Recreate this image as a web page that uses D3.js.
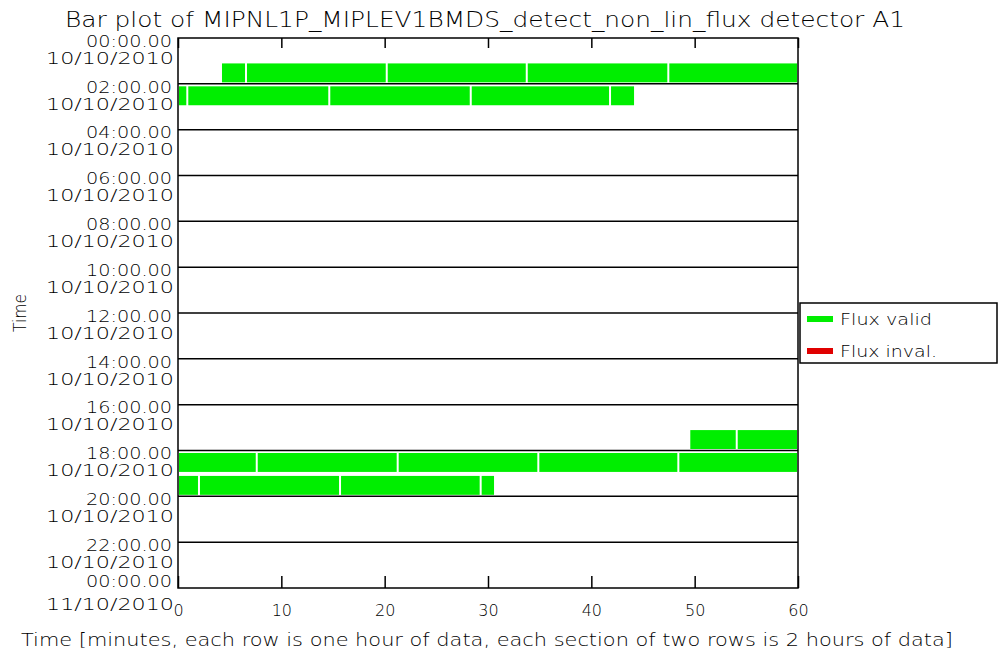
<!DOCTYPE html>
<html lang="en">
<head>
    <meta charset="UTF-8">
    <title>Bar plot detector A1</title>
    <script src="https://cdn.jsdelivr.net/npm/d3@7"></script>
    <style type="text/css">
        body {
            margin: 0;
            background: #fff;
        }
        text {
            font-family: "DejaVu Sans", sans-serif;
            font-weight: 200;
            fill: #000;
        }
    </style>
</head>
<body>
<svg width="1000" height="663"></svg>
<script>
    // row = hour of the day, start/end in minutes within that hour
    var segRow   = [1, 1, 1, 1, 1,  2, 2, 2, 2, 2,  17, 17,  18, 18, 18, 18, 18,  19, 19, 19, 19];
    var segStart = [4.16, 6.58, 20.2, 33.75, 47.45,  0, 0.9, 14.64, 28.33, 41.81,  49.48, 54.07,
                    0, 7.62, 21.26, 34.87, 48.42,  0, 2.03, 15.68, 29.29];
    var segEnd   = [6.58, 20.2, 33.75, 47.45, 60,  0.9, 14.64, 28.33, 41.81, 44.23,  54.07, 60,
                    7.62, 21.26, 34.87, 48.42, 60,  2.03, 15.68, 29.29, 30.68];

    var xTicks = [0, 10, 20, 30, 40, 50, 60];
    var yHours = [0, 2, 4, 6, 8, 10, 12, 14, 16, 18, 20, 22, 24];
    var yTimeLabels = ["00:00.00", "02:00.00", "04:00.00", "06:00.00", "08:00.00", "10:00.00", "12:00.00",
                       "14:00.00", "16:00.00", "18:00.00", "20:00.00", "22:00.00", "00:00.00"];
    var yDateLabels = ["10/10/2010", "10/10/2010", "10/10/2010", "10/10/2010", "10/10/2010", "10/10/2010",
                       "10/10/2010", "10/10/2010", "10/10/2010", "10/10/2010", "10/10/2010", "10/10/2010",
                       "11/10/2010"];
    var legendKeys = ["Flux valid", "Flux inval."];
    var legendColors = ["#00ee00", "#e00000"];

    var svg = d3.select("svg");
    var margin = {top: 38, left: 178, right: 202, bottom: 75};
    var width = 1000 - margin.left - margin.right;   // 620
    var height = 663 - margin.top - margin.bottom;   // 550

    var x = d3.scaleLinear().domain([0, 60]).range([0, width]);
    var y = d3.scaleLinear().domain([0, 24]).range([0, height]);

    svg.append("rect").attr("width", 1000).attr("height", 663).attr("fill", "#fff");

    var g = svg.append("g")
            .attr("transform", "translate(" + margin.left + "," + margin.top + ")");

    // bars
    var segs = segRow.map(function (r, i) {
        return {row: r, start: segStart[i], end: segEnd[i]};
    });
    g.append("g")
            .selectAll("rect")
            .data(segs)
            .enter().append("rect")
            .attr("x", function (d) { return x(d.start) + 1; })
            .attr("width", function (d) { return x(d.end) - x(d.start) - 2; })
            .attr("y", function (d) { return y(d.row) + 2.5; })
            .attr("height", function (d) { return y(d.row + 1) - y(d.row) - 4; })
            .attr("fill", legendColors[0]);

    // section lines every two hours
    g.append("g")
            .selectAll("line")
            .data(yHours.slice(1, -1))
            .enter().append("line")
            .attr("x1", 0)
            .attr("x2", width)
            .attr("y1", function (d) { return y(d); })
            .attr("y2", function (d) { return y(d); })
            .attr("stroke", "#000")
            .attr("stroke-width", 1.5);

    // frame
    g.append("rect")
            .attr("width", width)
            .attr("height", height)
            .attr("fill", "none")
            .attr("stroke", "#000")
            .attr("stroke-width", 1.5);

    // top ticks
    var topAxis = g.append("g")
            .call(d3.axisTop(x).tickValues(xTicks).tickSize(-10).tickFormat(""));
    topAxis.select(".domain").remove();
    topAxis.selectAll("line").attr("stroke", "#000").attr("stroke-width", 1.5);

    // bottom ticks + labels
    var botAxis = g.append("g")
            .attr("transform", "translate(0," + height + ")")
            .call(d3.axisBottom(x).tickValues(xTicks).tickSize(-12).tickPadding(17));
    botAxis.select(".domain").remove();
    botAxis.selectAll("line").attr("stroke", "#000").attr("stroke-width", 1.5);
    botAxis.selectAll("text")
            .attr("font-family", null)
            .attr("font-size", 16)
            .attr("fill", "#000");

    // y labels: time over date at each section line (last one pushed up to fit)
    var last = yHours.length - 1;
    var yl = g.append("g").selectAll("g")
            .data(yHours)
            .enter().append("g")
            .attr("transform", function (d) { return "translate(-6," + y(d) + ")"; });
    yl.append("text")
            .attr("text-anchor", "end")
            .attr("y", function (d, i) { return i === last ? -7 : 3; })
            .attr("dy", "0.36em")
            .attr("font-size", 16)
            .attr("textLength", 86)
            .attr("lengthAdjust", "spacingAndGlyphs")
            .text(function (d, i) { return yTimeLabels[i]; });
    yl.append("text")
            .attr("text-anchor", "end")
            .attr("x", 2)
            .attr("y", function (d, i) { return i === last ? 16 : 20; })
            .attr("dy", "0.36em")
            .attr("font-size", 16)
            .attr("textLength", 128)
            .attr("lengthAdjust", "spacingAndGlyphs")
            .text(function (d, i) { return yDateLabels[i]; });

    // titles
    svg.append("text")
            .attr("x", 485)
            .attr("y", 27)
            .attr("text-anchor", "middle")
            .attr("font-size", 22)
            .attr("textLength", 840)
            .attr("lengthAdjust", "spacingAndGlyphs")
            .text("Bar plot of MIPNL1P_MIPLEV1BMDS_detect_non_lin_flux detector A1");

    svg.append("text")
            .attr("x", 487)
            .attr("y", 646)
            .attr("text-anchor", "middle")
            .attr("font-size", 18)
            .attr("textLength", 932)
            .attr("lengthAdjust", "spacingAndGlyphs")
            .text("Time [minutes, each row is one hour of data, each section of two rows is 2 hours of data]");

    svg.append("text")
            .attr("transform", "translate(26,313) rotate(-90)")
            .attr("text-anchor", "middle")
            .attr("font-size", 17)
            .attr("textLength", 38)
            .attr("lengthAdjust", "spacingAndGlyphs")
            .text("Time");

    // legend
    var legend = svg.append("g").attr("transform", "translate(800,303)");
    legend.append("rect")
            .attr("width", 197)
            .attr("height", 60)
            .attr("fill", "#fff")
            .attr("stroke", "#000")
            .attr("stroke-width", 1.5);
    var item = legend.selectAll("g.item")
            .data(legendKeys)
            .enter().append("g")
            .attr("class", "item")
            .attr("transform", function (d, i) { return "translate(0," + (16 + i * 32) + ")"; });
    item.append("rect")
            .attr("x", 7)
            .attr("y", -3)
            .attr("width", 26)
            .attr("height", 6)
            .attr("fill", function (d, i) { return legendColors[i]; });
    item.append("text")
            .attr("x", 40)
            .attr("dy", "0.36em")
            .attr("font-size", 16)
            .attr("textLength", function (d, i) { return i === 0 ? 92 : 97; })
            .attr("lengthAdjust", "spacingAndGlyphs")
            .text(function (d) { return d; });
</script>
</body>
</html>
